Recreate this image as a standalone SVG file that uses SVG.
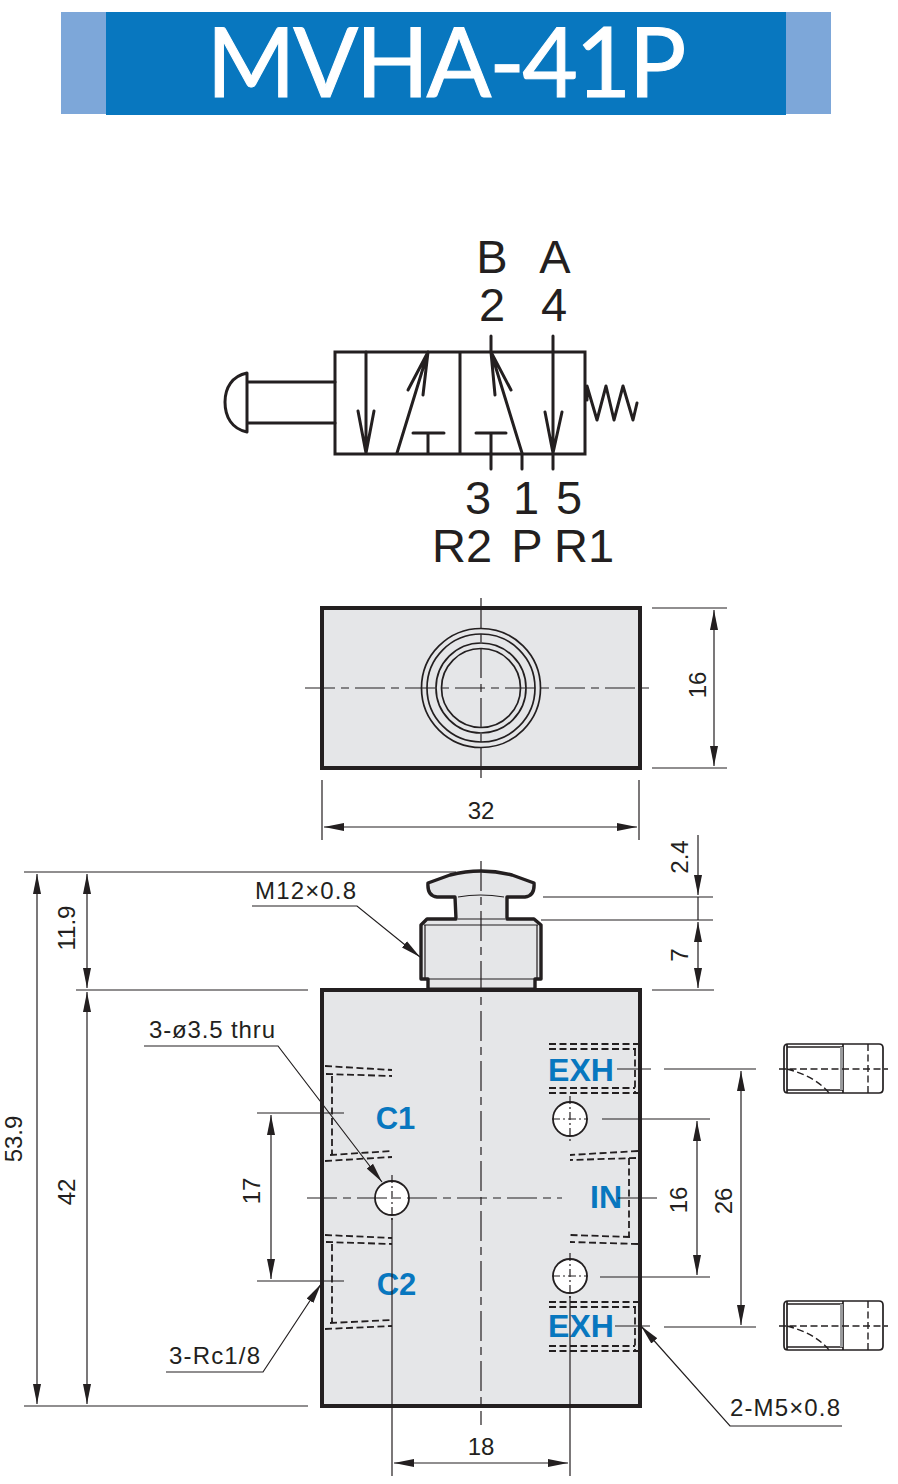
<svg xmlns="http://www.w3.org/2000/svg" width="898" height="1484" viewBox="0 0 898 1484">
<style>
text{font-family:"Liberation Sans",Arial,sans-serif;fill:#231f20}
.sym{fill:none;stroke:#231f20;stroke-width:3;stroke-linecap:round;stroke-linejoin:round}
.symf{fill:none;stroke:#231f20;stroke-width:3;stroke-linejoin:miter}
.big{font-size:47px;text-anchor:middle}
.dim{font-size:24px;text-anchor:middle}
.lbl{font-size:24px}
.blue{font-size:32px;font-weight:bold;fill:#0877bf;text-anchor:middle}
.body{fill:#e5e6e8;stroke:#231f20;stroke-width:4}
.thin{fill:none;stroke:#231f20;stroke-width:1.2}
.cen{fill:none;stroke:#231f20;stroke-width:1.2;stroke-dasharray:30 6 8 6}
.dash{fill:none;stroke:#231f20;stroke-width:1.8;stroke-dasharray:7 3.5}
.edge{fill:none;stroke:#231f20;stroke-width:1.7}
.hole{fill:#fff;stroke:#231f20;stroke-width:1.8}
</style>
<defs>
<marker id="a" markerUnits="userSpaceOnUse" markerWidth="20" markerHeight="10" refX="20" refY="5" orient="auto-start-reverse"><path d="M0 1L20 5L0 9z" fill="#231f20"/></marker>
<g id="plug"><path class="edge" d="M0 4q0-4 4-4H95q4 0 4 4V45q0 4-4 4H4q-4 0-4-4z"/><path class="edge" d="M3 49V0M3 3H59M3 46H59M59 0V49"/><path fill="#9a9b9d" d="M56 3h3v43h-3z"/><path class="dash" d="M84 0V49M-5 25H104M3 25C22 30 36 38 45 49" style="stroke-width:1.4"/></g>
</defs>

<g id="title">
<rect x="61" y="12" width="770" height="102" fill="#7da7d9"/>
<rect x="106" y="12" width="680" height="103" fill="#0877bf"/>
<text x="446.500" y="97" text-anchor="middle" textLength="480" lengthAdjust="spacing" style="font-family:Lato,'Liberation Sans',sans-serif;font-size:96px;fill:#fff;stroke:#fff;stroke-width:1">MVHA-41P</text>
</g>

<g id="symbol">
<path class="symf" d="M335 352H585V454H335zM460 352V454"/>
<path class="sym" d="M366 352V453M358 411L366 453L374 411M397 453L428 352M408 390L428 352L423 395M428 433V453M413 433H444"/>
<path class="sym" d="M491 336V352L522 453M491 352L511 390M491 352L495 395M491 433V469M476 433H506M522 453V469M553 336V469M545 412L553 453L562 412"/>
<path class="sym" d="M587 400L587 386L597 420L606 386L614 420L623 386L633 420L637 403"/>
<path class="sym" d="M247 382H335M247 423H335M247 373C232 376 225 388 225 402C225 417 232 429 247 432Z"/>
<text class="big" x="492" y="273">B</text><text class="big" x="555" y="273">A</text>
<text class="big" x="492" y="321">2</text><text class="big" x="554" y="321">4</text>
<text class="big" x="478" y="514">3</text><text class="big" x="526" y="514">1</text><text class="big" x="569" y="514">5</text>
<text class="big" x="462" y="562">R2</text><text class="big" x="527" y="562">P</text><text class="big" x="584" y="562">R1</text>
</g>

<g id="top-view">
<rect class="body" x="322" y="608" width="318" height="160"/>
<circle class="edge" cx="481" cy="688" r="59.500"/>
<circle class="edge" cx="481" cy="688" r="54"/>
<circle class="edge" cx="481" cy="688" r="45"/>
<circle class="edge" cx="481" cy="688" r="39.500"/>
</g>

<g id="body-side">
<path d="M428 990V979H421V925L427 919H456L455 897H437Q427 896 428 883L450 875Q481 867 512 875L534 883Q535 896 525 897H507V919H534L541 925V979H535V990Z" fill="#e5e6e8"/>
<path d="M422 990H640V1406H322V990H428" class="body"/>
<path d="M428 990V979H421V925L427 919H456L455 897H437Q427 896 428 883L450 875Q481 867 512 875L534 883Q535 896 525 897H507V919H534L541 925V979H535V990" fill="none" stroke="#231f20" stroke-width="3.400" stroke-linejoin="round"/>
<path class="thin" d="M424 925H538M425 925V979M537 925V979M428 979H535M458 897Q480 893 504 897M458 919H505M428 988H535"/>
</g>

<g id="ports">
<path class="dash" d="M325 1066L392 1070M326 1074L392 1076M332 1076V1154M325 1161L392 1157M330 1155L392 1151"/>
<path class="dash" d="M325 1235L392 1238M326 1242L392 1244M332 1244V1322M325 1329L392 1326M330 1323L392 1320"/>
<path class="dash" d="M638 1151L570 1155M636 1158L570 1160M629 1158V1237M638 1244L570 1242M630 1237L570 1235"/>
<path class="dash" d="M549 1044H638M549 1049H636M635 1049V1092M549 1088H635M549 1093H638"/>
<path class="dash" d="M549 1302H638M549 1307H636M635 1307V1350M549 1346H635M549 1351H638"/>
<circle class="hole" cx="392" cy="1198" r="17"/>
<circle class="hole" cx="570" cy="1119" r="17"/>
<circle class="hole" cx="570" cy="1276" r="17"/>
<text class="blue" x="395.500" y="1129" style="font-size:31px">C1</text>
<text class="blue" x="396.500" y="1295" style="font-size:31px">C2</text>
<text class="blue" x="606" y="1208">IN</text>
<text class="blue" x="581" y="1081">EXH</text>
<text class="blue" x="581" y="1337">EXH</text>
</g>

<g id="plug-top"><use href="#plug" x="784" y="1044"/></g>
<g id="plug-bottom"><use href="#plug" x="784" y="1301"/></g>

<g id="connectors">
<path class="cen" d="M481 598V782M305 688H652"/>
<path class="thin" d="M652 608H727M652 768H727M322 780V840M639 780V840"/>
<path class="thin" d="M714 610V766" marker-start="url(#a)" marker-end="url(#a)"/>
<path class="thin" d="M324 827H637" marker-start="url(#a)" marker-end="url(#a)"/>
<path class="cen" d="M481 861V1425M307 1198H562"/>
<path class="thin" d="M24 872H456M24 1406H308M76 990H308M652 990H714M543 897H713M541 920H713"/>
<path class="thin" d="M37 874V1404" marker-start="url(#a)" marker-end="url(#a)"/>
<path class="thin" d="M87 874V988" marker-start="url(#a)" marker-end="url(#a)"/>
<path class="thin" d="M87 992V1404" marker-start="url(#a)" marker-end="url(#a)"/>
<path class="thin" d="M698 835V895" marker-end="url(#a)"/>
<path class="thin" d="M698 922V988" marker-start="url(#a)" marker-end="url(#a)"/>
<path class="thin" d="M698 897V920"/>
<path class="thin" d="M252 906H357L420 957" marker-end="url(#a)"/>
<path class="thin" d="M144 1046H278L382 1182" marker-end="url(#a)"/>
<path class="thin" d="M166 1372H263L321 1284" marker-end="url(#a)"/>
<path class="thin" d="M842 1426H730L641 1326" marker-end="url(#a)"/>
<path class="thin" d="M257 1113H344M257 1281H344"/>
<path class="thin" d="M271 1115V1279" marker-start="url(#a)" marker-end="url(#a)"/>
<path class="thin" d="M602 1119H710M600 1277H710M664 1069H756M664 1327H756M617 1069H651M615 1326H650M618 1198H657"/>
<path class="thin" d="M697 1121V1275" marker-start="url(#a)" marker-end="url(#a)"/>
<path class="thin" d="M741 1071V1325" marker-start="url(#a)" marker-end="url(#a)"/>
<path class="thin" d="M392 1218V1476M570 1296V1476"/>
<path class="thin" d="M394 1463H568" marker-start="url(#a)" marker-end="url(#a)"/>
<path class="thin" d="M392 1175V1221M570 1096V1142M570 1253V1299M552 1119H588M552 1276H588" stroke-dasharray="8 3 2 3"/>
</g>

<g id="labels">
<text class="dim" x="481" y="819">32</text>
<text class="dim" transform="translate(706 685) rotate(-90)">16</text>
<text class="dim" transform="translate(688 857) rotate(-90)">2.4</text>
<text class="dim" transform="translate(688 955) rotate(-90)">7</text>
<text class="dim" transform="translate(75 928) rotate(-90)">11.9</text>
<text class="dim" transform="translate(75 1192) rotate(-90)">42</text>
<text class="dim" transform="translate(22 1139) rotate(-90)">53.9</text>
<text class="dim" transform="translate(260 1191) rotate(-90)">17</text>
<text class="dim" transform="translate(687 1200) rotate(-90)">16</text>
<text class="dim" transform="translate(732 1201) rotate(-90)">26</text>
<text class="dim" x="481" y="1455">18</text>
<text class="lbl" x="255" y="899" textLength="101">M12×0.8</text>
<text class="lbl" x="149" y="1038" textLength="126">3-ø3.5 thru</text>
<text class="lbl" x="169" y="1364" textLength="91">3-Rc1/8</text>
<text class="lbl" x="730" y="1416" textLength="110">2-M5×0.8</text>
</g>
</svg>
